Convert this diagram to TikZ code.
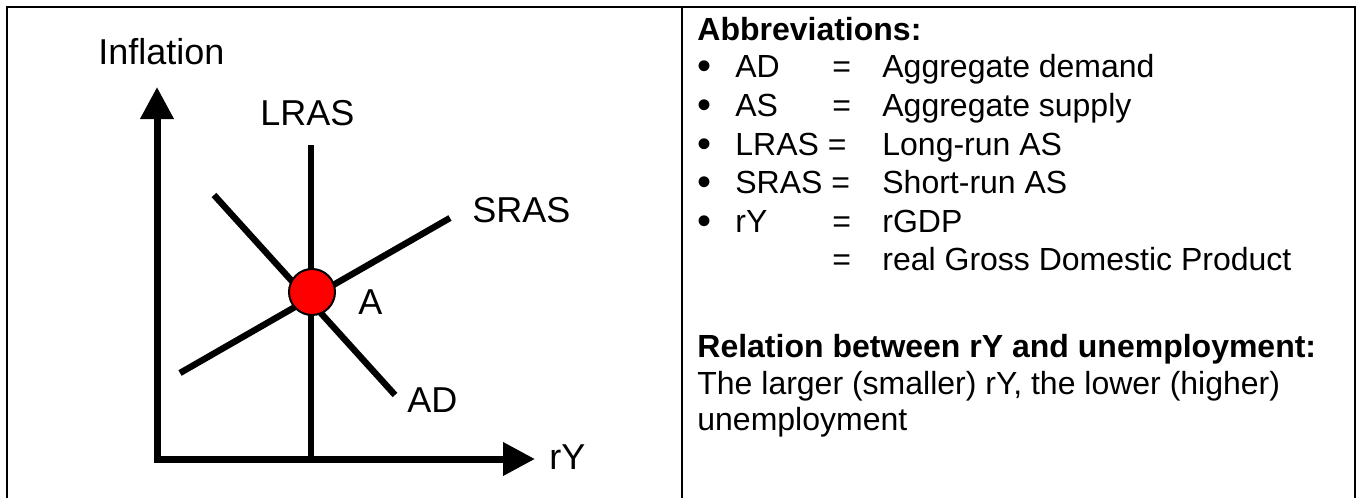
\documentclass[tikz,border=0pt]{standalone}
\usepackage{fontspec}
\setmainfont{Liberation Sans}
\usetikzlibrary{arrows.meta}
\begin{document}
\begin{tikzpicture}[x=0.5pt,y=-0.5pt,
  big/.style={inner sep=0pt,anchor=base west,font=\fontsize{18}{21.6}\selectfont},
  txt/.style={inner sep=0pt,anchor=base west,font=\fontsize{16}{19.2}\selectfont},
  boldtxt/.style={inner sep=0pt,anchor=base west,font=\fontsize{16}{19.2}\selectfont\bfseries},
  bul/.style={inner sep=0pt,anchor=base west,font=\fontsize{20}{24}\selectfont},
  axisline/.style={line width=3.5pt,-{Triangle[width=16pt,length=16pt]}},
  curveline/.style={line width=3.2pt},
  frameline/.style={line width=1pt},
  eqpoint/.style={circle,draw=black,fill=red,line width=1pt,minimum size=23pt,inner sep=0pt}]
\useasboundingbox (0,0) rectangle (1362,498);
% frame
\coordinate (fbl) at (7,498);
\coordinate (ftl) at (7,7);
\coordinate (ftr) at (1355,7);
\coordinate (fbr) at (1355,498);
\coordinate (dtop) at (682,7);
\coordinate (dbot) at (682,498);
\draw[frameline] (fbl) -- (ftl) -- (ftr) -- (fbr);
\draw[frameline] (dtop) -- (dbot);
% axes
\coordinate (origin) at (157,459);
\coordinate (origx) at (154,459);
\coordinate (ytop) at (157,87);
\coordinate (xend) at (535,459);
\draw[axisline] (origin) -- (ytop);
\draw[axisline] (origx) -- (xend);
% curves
\coordinate (lrastop) at (311,145);
\coordinate (lrasbot) at (311,459);
\coordinate (srasl) at (180,373);
\coordinate (srasr) at (450,218);
\coordinate (adl) at (214,195);
\coordinate (adr) at (395,395);
\draw[curveline] (lrastop) -- (lrasbot);
\draw[curveline] (srasl) -- (srasr);
\draw[curveline] (adl) -- (adr);
\node[eqpoint] (pA) at (312,292) {};
% labels
\node[big] (infl) at (98,64) {Inflation};
\node[big] (lras) at (260,125) {LRAS};
\node[big] (sras) at (472,222) {SRAS};
\node[big] (lblA) at (358,314) {A};
\node[big] (lblAD) at (407,412) {AD};
\node[big] (ry) at (549,469) {rY};
% right panel
\node[boldtxt] (abbr) at (697,40) {Abbreviations:};
\node[bul] (b1) at (697,79) {\textbullet};
\node[bul] (b2) at (697,118) {\textbullet};
\node[bul] (b3) at (697,157) {\textbullet};
\node[bul] (b4) at (697,195) {\textbullet};
\node[bul] (b5) at (697,234) {\textbullet};
\node[txt] (k1) at (735,77) {AD};
\node[txt] (k2) at (735,116) {AS};
\node[txt] (k3) at (735,155) {LRAS =};
\node[txt] (k4) at (735,193) {SRAS =};
\node[txt] (k5) at (735,232) {rY};
\node[txt] (e1) at (832,77) {=};
\node[txt] (e2) at (832,116) {=};
\node[txt] (e5) at (832,232) {=};
\node[txt] (e6) at (832,270) {=};
\node[txt] (d1) at (882,77) {Aggregate demand};
\node[txt] (d2) at (882,116) {Aggregate supply};
\node[txt] (d3) at (882,155) {Long-run AS};
\node[txt] (d4) at (882,193) {Short-run AS};
\node[txt] (d5) at (882,232) {rGDP};
\node[txt] (d6) at (882,270) {real Gross Domestic Product};
\node[boldtxt] (rel) at (697,357) {Relation between rY and unemployment:};
\node[txt] (rel1) at (697,394) {The larger (smaller) rY, the lower (higher)};
\node[txt] (rel2) at (697,430) {unemployment};
\end{tikzpicture}
\end{document}
